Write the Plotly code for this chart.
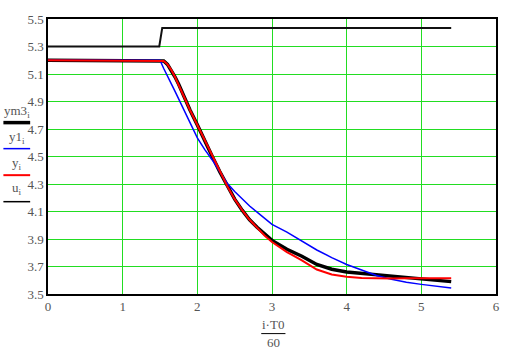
import plotly.graph_objects as go

# time axis (i*T0/60)
t = [0, 0.5, 1.0, 1.5, 1.55, 1.6, 1.65, 1.7, 1.75, 1.8, 1.9, 2.0, 2.1, 2.2, 2.3,
     2.4, 2.5, 2.6, 2.7, 2.8, 2.9, 3.0, 3.2, 3.4, 3.6, 3.8, 4.0, 4.2, 4.4, 4.6,
     4.8, 5.0, 5.2, 5.4]

y_vals = [5.2, 5.2, 5.2, 5.2, 5.195, 5.17, 5.13, 5.08, 5.025, 4.96, 4.84, 4.73,
          4.61, 4.50, 4.39, 4.285, 4.19, 4.11, 4.04, 3.98, 3.925, 3.878, 3.805,
          3.745, 3.678, 3.642, 3.625, 3.617, 3.614, 3.613, 3.614, 3.615, 3.615, 3.614]

ym3_vals = [5.2, 5.2, 5.2, 5.2, 5.195, 5.17, 5.13, 5.08, 5.025, 4.96, 4.84, 4.73,
            4.61, 4.50, 4.39, 4.285, 4.19, 4.11, 4.04, 3.985, 3.935, 3.89, 3.825,
            3.775, 3.715, 3.68, 3.66, 3.65, 3.64, 3.63, 3.62, 3.61, 3.60, 3.59]

y1_vals = [5.2, 5.2, 5.2, 5.2, 5.14, 5.09, 5.03, 4.975, 4.92, 4.86, 4.745, 4.635,
           4.55, 4.475, 4.39, 4.305, 4.245, 4.19, 4.14, 4.095, 4.05, 4.007, 3.95,
           3.885, 3.82, 3.765, 3.715, 3.675, 3.635, 3.607, 3.585, 3.57, 3.555, 3.543]

u_t = [0, 1.49, 1.53, 5.4]
u_vals = [5.3, 5.3, 5.435, 5.435]

x_ticks = [0, 1, 2, 3, 4, 5, 6]
y_ticks = [3.5, 3.7, 3.9, 4.1, 4.3, 4.5, 4.7, 4.9, 5.1, 5.3, 5.5]

legend_labels = ["ym3<sub>i</sub>", "y1<sub>i</sub>", "y<sub>i</sub>", "u<sub>i</sub>"]
legend_colors = ["#000000", "#0000ff", "#ff0000", "#000000"]
legend_widths = [3.5, 1.5, 2, 1.5]

fig = go.Figure()
fig.add_trace(go.Scatter(x=t, y=ym3_vals, mode="lines",
                         line=dict(color="#000000", width=3.5)))
fig.add_trace(go.Scatter(x=t, y=y1_vals, mode="lines",
                         line=dict(color="#0000ff", width=1.5)))
fig.add_trace(go.Scatter(x=t, y=y_vals, mode="lines",
                         line=dict(color="#ff0000", width=2)))
fig.add_trace(go.Scatter(x=u_t, y=u_vals, mode="lines",
                         line=dict(color="#111111", width=2)))

grid_col = "#22dd22"
serif = "Liberation Serif"
tick_font = dict(family=serif, size=13, color="#555555")

fig.update_layout(
    width=512, height=353,
    margin=dict(l=48, r=12, t=14, b=59),
    paper_bgcolor="white", plot_bgcolor="white",
    showlegend=False,
    font=dict(family=serif, size=13, color="#555555"),
    xaxis=dict(range=[0, 6], tickvals=x_ticks, ticktext=[str(v) for v in x_ticks],
               showgrid=True, gridcolor=grid_col, gridwidth=1,
               showline=True, linecolor="black", linewidth=1.5, mirror=True,
               ticks="", zeroline=False, tickfont=tick_font),
    yaxis=dict(range=[3.5, 5.5], tickvals=y_ticks, ticktext=["%.1f" % v for v in y_ticks],
               showgrid=True, gridcolor=grid_col, gridwidth=1,
               showline=True, linecolor="black", linewidth=1.5, mirror=True,
               ticks="", zeroline=False, tickfont=tick_font),
)

# x-axis title as a fraction
frac_font = dict(family=serif, size=13, color="#555555")
fig.add_annotation(text="i·T0", xref="paper", yref="paper", x=0.503, y=-0.111,
                   showarrow=False, font=frac_font, xanchor="center", yanchor="middle")
fig.add_annotation(text="60", xref="paper", yref="paper", x=0.503, y=-0.177,
                   showarrow=False, font=frac_font, xanchor="center", yanchor="middle")
fig.add_shape(type="line", xref="paper", yref="paper", x0=0.476, x1=0.530,
              y0=-0.144, y1=-0.144, line=dict(color="black", width=1))

# left-side legend
label_y_px = [108, 135, 161, 187]
line_y_px = [119.5, 146, 173, 200]
for lab, col, w, ly, lny in zip(legend_labels, legend_colors, legend_widths, label_y_px, line_y_px):
    fig.add_annotation(text=lab, xref="paper", yref="paper",
                       x=(17 - 48) / 452, y=(294 - ly) / 280,
                       showarrow=False, font=frac_font, xanchor="center", yanchor="middle")
    fig.add_shape(type="line", xref="paper", yref="paper",
                  x0=(3 - 48) / 452, x1=(30 - 48) / 452,
                  y0=(294 - lny) / 280, y1=(294 - lny) / 280,
                  line=dict(color=col, width=w))

fig.write_html("out.html")
